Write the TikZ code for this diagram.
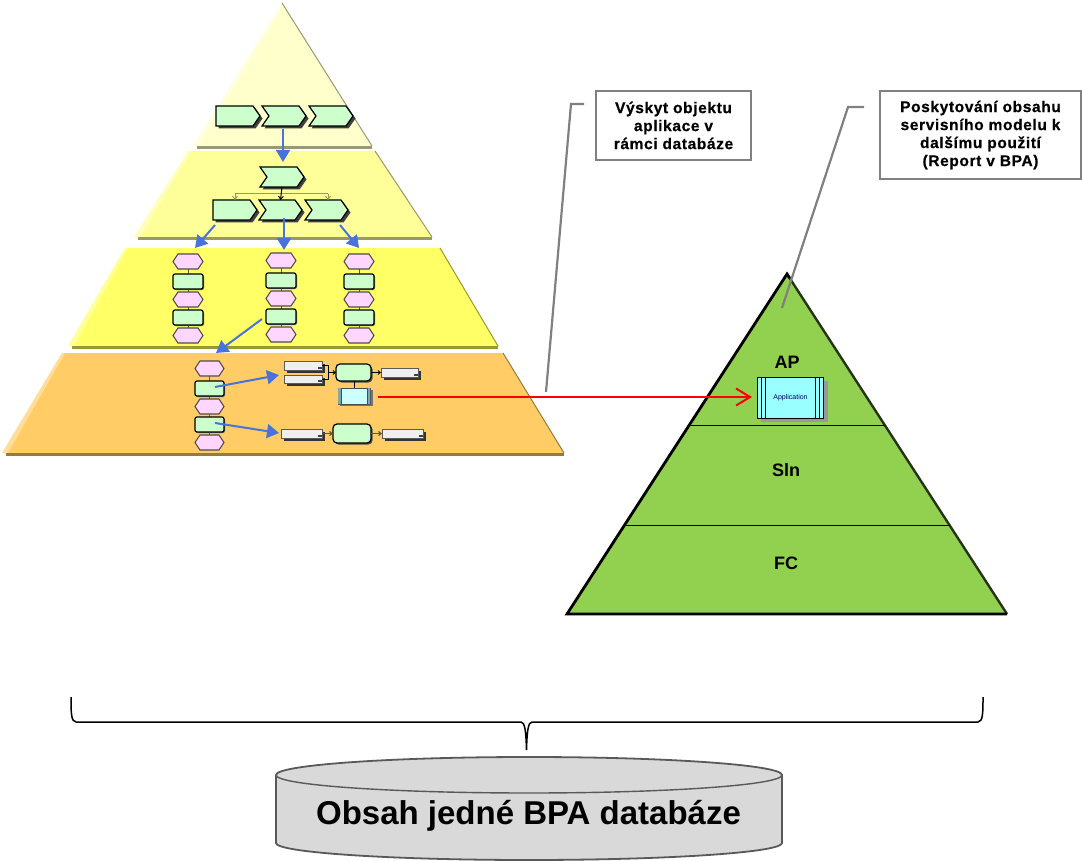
\documentclass[tikz,border=0pt]{standalone}
\usepackage{fontspec}
\setmainfont{Liberation Sans}
\newfontfamily\notefont[LetterSpace=4,FakeBold=0.5]{Liberation Sans Bold}
\usetikzlibrary{arrows.meta,calc}
\definecolor{layerA}{HTML}{FFFFCC}
\definecolor{layerB}{HTML}{FFFF99}
\definecolor{layerC}{HTML}{FFFF66}
\definecolor{layerD}{HTML}{FFCC66}
\definecolor{edgeA}{HTML}{999977}
\definecolor{edgeB}{HTML}{999966}
\definecolor{edgeC}{HTML}{999933}
\definecolor{edgeD}{HTML}{997A3D}
\definecolor{stepgreen}{HTML}{CCFFCC}
\definecolor{eventpink}{HTML}{FFD6FF}
\definecolor{docgrey}{HTML}{EFEFEF}
\definecolor{appcyan}{HTML}{CCFFFF}
\definecolor{appbright}{HTML}{99FFFF}
\definecolor{flowblue}{HTML}{4A72DC}
\definecolor{leaf}{HTML}{92D050}
\definecolor{drum}{HTML}{D9D9D9}
\tikzset{
  flow/.style={draw=flowblue,line width=2pt,-{Triangle[length=12pt,width=14pt]}},
  tie/.style={draw=black,line width=0.8pt},
  tietan/.style={draw=edgeB,line width=1pt},
  outline/.style={draw=black,line width=1.2pt},
  leader/.style={draw=gray,line width=2.2pt},
  callout/.style={draw=gray,line width=2pt,fill=white,align=center,inner sep=0pt,font=\fontsize{15.5}{18}\selectfont\notefont},
  tier/.style={font=\fontsize{18}{20}\selectfont\bfseries},
  divider/.style={draw=black,line width=1pt},
}
% Each shape macro: name, left, top, right, bottom
\newcommand{\placebox}[5]{\node[inner sep=0pt,outer sep=0pt,minimum width=#4pt-#2pt,minimum height=#5pt-#3pt] (#1) at ({(#2+#4)/2},{(#3+#5)/2}) {};}
\newcommand{\chevflat}[5]{%
  \fill[black!75] (#2+2.5,#3+2.5) -- (#4-7+2.5,#3+2.5) -- (#4+2.5,{(#3+#5)/2+2.5}) -- (#4-7+2.5,#5+2.5) -- (#2+2.5,#5+2.5) -- cycle;
  \filldraw[fill=stepgreen,outline] (#2,#3) -- (#4-7,#3) -- (#4,{(#3+#5)/2}) -- (#4-7,#5) -- (#2,#5) -- cycle;
  \placebox{#1}{#2}{#3}{#4}{#5}}
\newcommand{\chevnotch}[5]{%
  \fill[black!75] (#2+2.5,#3+2.5) -- (#4-7+2.5,#3+2.5) -- (#4+2.5,{(#3+#5)/2+2.5}) -- (#4-7+2.5,#5+2.5) -- (#2+2.5,#5+2.5) -- (#2+7+2.5,{(#3+#5)/2+2.5}) -- cycle;
  \filldraw[fill=stepgreen,outline] (#2,#3) -- (#4-7,#3) -- (#4,{(#3+#5)/2}) -- (#4-7,#5) -- (#2,#5) -- (#2+7,{(#3+#5)/2}) -- cycle;
  \placebox{#1}{#2}{#3}{#4}{#5}}
\newcommand{\eventhex}[5]{%
  \filldraw[fill=eventpink,draw=black!70,line width=1.1pt] (#2,{(#3+#5)/2}) -- (#2+5,#3) -- (#4-5,#3) -- (#4,{(#3+#5)/2}) -- (#4-5,#5) -- (#2+5,#5) -- cycle;
  \placebox{#1}{#2}{#3}{#4}{#5}}
\newcommand{\steprect}[5]{%
  \fill[black!60,rounded corners=2pt] (#2+1,#3+1) rectangle (#4+1,#5+1);
  \filldraw[fill=stepgreen,outline,rounded corners=2pt] (#2,#3) rectangle (#4,#5);
  \placebox{#1}{#2}{#3}{#4}{#5}}
\newcommand{\funcbox}[5]{%
  \fill[black!70,rounded corners=4pt] (#2+1.5,#3+1.5) rectangle (#4+1.5,#5+1.5);
  \filldraw[fill=stepgreen,outline,rounded corners=4pt] (#2,#3) rectangle (#4,#5);
  \placebox{#1}{#2}{#3}{#4}{#5}}
\newcommand{\docbox}[5]{%
  \fill[black!80] (#2+2.5,#3+2.5) rectangle (#4+2.5,#5+2.5);
  \filldraw[fill=docgrey,draw=black!65,line width=1pt] (#2,#3) rectangle (#4,#5);
  \fill[black!75] (#4-4,#5-1) rectangle (#4,#5-3.5);
  \placebox{#1}{#2}{#3}{#4}{#5}}
% One band of the stepped pyramid: top y, top-left x, top-right x, bottom y, bottom-left x, bottom-right x, fill, edge
\newcommand{\band}[8]{%
  \fill[#7] (#2,#1) -- (#3,#1) -- (#6,#4) -- (#5,#4) -- cycle;
  \fill[white,opacity=0.35] (#2,#1) -- (#2+3,#1) -- (#5+6,#4) -- (#5,#4) -- cycle;
  \draw[#8,line width=1pt] (#3,#1) -- (#6,#4);
  \fill[#8] (#5+4,#4) rectangle (#6,#4+3);}
\begin{document}
\begin{tikzpicture}[x=1pt,y=-1pt]
\useasboundingbox (0,0) rectangle (1082,861);

% Stepped pyramid of process levels
\band{3}{282}{282}{146}{193}{372}{layerA}{edgeA}
\band{151}{188}{375}{237}{134}{432}{layerB}{edgeB}
\band{248}{125}{440}{346}{68}{498}{layerC}{edgeC}
\band{353}{62}{503}{453}{2}{564}{layerD}{edgeD}

% Value chain level
\chevflat{va}{216}{106}{260}{126}
\chevnotch{vb}{262}{106}{306}{126}
\chevnotch{vc}{309}{106}{353}{126}

% Decomposition level
\chevnotch{pt}{260}{167}{304}{187}
\chevflat{pa}{213}{200}{257}{220}
\chevnotch{pb}{259}{200}{302}{220}
\chevnotch{pc}{305}{200}{348}{220}
\coordinate (busL) at (235,194);
\coordinate (busR) at (328,194);
\draw[tietan] (busL) -- (busR);
\draw[tietan,-{Straight Barb[length=3pt,width=5pt]}] (busL) -- (pa.north -| busL);
\draw[tietan,-{Straight Barb[length=3pt,width=5pt]}] (busR) -- (pc.north -| busR);
\draw[tie,line width=1pt,-{Straight Barb[length=3pt,width=5pt]}] (pt.south) -- (pb.north);

% Event-driven chains, three columns
\foreach \col/\xa/\xb/\dy in {l/173/203/0,m/266/296/-1,r/344/374/0}{
  \draw[edgeC!60!black,line width=1pt] ({(\xa+\xb)/2},{254+\dy}) -- ({(\xa+\xb)/2},{343+\dy});
  \eventhex{e1\col}{\xa}{254+\dy}{\xb}{269+\dy}
  \steprect{s1\col}{\xa}{274+\dy}{\xb}{289+\dy}
  \eventhex{e2\col}{\xa}{292+\dy}{\xb}{307+\dy}
  \steprect{s2\col}{\xa}{310+\dy}{\xb}{325+\dy}
  \eventhex{e3\col}{\xa}{328+\dy}{\xb}{343+\dy}
}

% Detailed chain on the lowest level
\draw[black!60,line width=1pt] (209.5,361) -- (209.5,450);
\eventhex{de1}{195}{361}{224}{376}
\steprect{ds1}{195}{381}{224}{396}
\eventhex{de2}{195}{399}{224}{414}
\steprect{ds2}{195}{417}{224}{432}
\eventhex{de3}{195}{435}{224}{450}

% Function allocation, upper
\docbox{ia}{284}{361}{322}{370}
\docbox{ib}{284}{375}{322}{383}
\funcbox{fu}{336}{364}{371}{381}
\docbox{ou}{381}{368}{418}{377}
\draw[tie] (ia.east) -- ++(6,0) |- (ib.east);
\coordinate (joinU) at (328,372.5);
\draw[tie,-{Straight Barb[length=2.5pt,width=4pt]}] (joinU) -- (fu.west |- joinU);
\draw[tie,-{Straight Barb[length=2.5pt,width=4pt]}] (fu.east |- ou.west) -- (ou.west);
\fill[black!55] (340,390) rectangle (372.5,405.5);
\filldraw[fill=appcyan,draw=black!70,line width=0.8pt] (338,388) rectangle (370,404);
\fill[black!35!appcyan] (338,388) rectangle (341,404) (367,388) rectangle (370,404);
\draw[black!70,line width=0.5pt] (341,388) -- (341,404) (367,388) -- (367,404);
\placebox{sa}{338}{388}{370}{404}
\draw[tie] (fu.south -| sa.north) -- (sa.north);

% Function allocation, lower
\docbox{ic}{281}{429}{322}{438}
\funcbox{fl}{333}{424}{371}{443}
\docbox{ol}{382}{429}{423}{438}
\draw[edgeD!70!black,line width=1.2pt,-{Straight Barb[length=2.5pt,width=4pt]}] (ic.east |- fl.west) -- (fl.west);
\draw[edgeD!70!black,line width=1.2pt,-{Straight Barb[length=2.5pt,width=4pt]}] (fl.east) -- (ol.west |- fl.east);

% Blue level-to-level arrows
\coordinate (a1s) at (283,129);
\coordinate (a1e) at (283,162);
\coordinate (a2s) at (215,225);
\coordinate (a2e) at (195,248);
\coordinate (a3s) at (284,218);
\coordinate (a3e) at (284,250);
\coordinate (a4s) at (340,225);
\coordinate (a4e) at (359,248);
\coordinate (a5s) at (262,319);
\coordinate (a5e) at (216,353);
\coordinate (a6s) at (215,387);
\coordinate (a6e) at (279,375);
\coordinate (a7s) at (215,423);
\coordinate (a7e) at (279,433);
\foreach \n in {1,...,7}{\draw[flow] (a\n s) -- (a\n e);}

% Service model pyramid
\coordinate (apex) at (787,274);
\coordinate (baseL) at (567,614);
\coordinate (baseR) at (1007,614);
\fill[leaf] (apex) -- (baseR) -- (baseL) -- cycle;
\draw[black!75!leaf,line width=2.4pt] (apex) -- (baseR);
\draw[black,line width=2.8pt,line join=miter] (baseR) -- (baseL) -- (apex) -- ($(apex)!0.012!(baseR)$);
\draw[divider] ($(apex)!0.447!(baseL)$) -- ($(apex)!0.447!(baseR)$);
\draw[divider] ($(apex)!0.741!(baseL)$) -- ($(apex)!0.741!(baseR)$);
\node[tier] (tap) at (787,362) {AP};
\node[tier] (tsl) at (786,470) {Sln};
\node[tier] (tfc) at (786,563) {FC};

% Application object
\fill[black!40] (761,381) rectangle (828,422);
\node[draw=black,line width=0.9pt,fill=appbright,minimum width=66pt,minimum height=41pt,inner sep=0pt,outer sep=0pt,font=\fontsize{7}{8}\selectfont,text=blue!40!black] (app) at (790.5,398) {Application};
\draw[black,line width=0.8pt] (761.5,377.5) -- (761.5,418.5) (765.5,377.5) -- (765.5,418.5)
      (815.5,377.5) -- (815.5,418.5) (819.5,377.5) -- (819.5,418.5);

% Occurrence link
\coordinate (linkS) at (378,397);
\coordinate (linkE) at (752,397);
\draw[red,line width=2.6pt,-{Straight Barb[length=14pt,width=17pt,line width=2pt]}] (linkS) -- (linkE);

% Callouts
\node[callout,minimum width=155pt,minimum height=69pt] (noteA) at (673.5,125.5) {Výskyt objektu\\aplikace  v\\rámci databáze};
\node[callout,minimum width=201pt,minimum height=88pt] (noteB) at (980.5,135) {Poskytování obsahu\\servisního modelu k\\dalšímu použití\\(Report v BPA)};
\coordinate (tipA) at (546,392);
\coordinate (kneeA) at (571,104);
\coordinate (startA) at (584,104);
\coordinate (tipB) at (782,308);
\coordinate (kneeB) at (848,107);
\coordinate (startB) at (864,107);
\draw[leader] (startA) -- (kneeA) -- (tipA);
\draw[leader] (startB) -- (kneeB) -- (tipB);

% Database brace and drum
\draw[black,line width=1.5pt]
  (71,697) .. controls (71,712) and (71,722) .. (76,722) -- (521,722)
  .. controls (525,722) and (526,732) .. (526.5,750)
  .. controls (527,732) and (528,722) .. (532,722) -- (978,722)
  .. controls (983,722) and (983,712) .. (983,697);
\filldraw[fill=drum,draw=black!65,line width=1.8pt]
  (276,775) -- (276,843) arc[start angle=180,end angle=360,x radius=253,y radius=-17]
  -- (782,775) arc[start angle=0,end angle=180,x radius=253,y radius=-18] -- cycle;
\draw[black!65,line width=1.4pt] (276,775) arc[start angle=180,end angle=360,x radius=253,y radius=-18];
\node[font=\fontsize{33}{38}\selectfont\bfseries] (drumT) at (528.5,816) {Obsah jedné BPA databáze};
\end{tikzpicture}
\end{document}
